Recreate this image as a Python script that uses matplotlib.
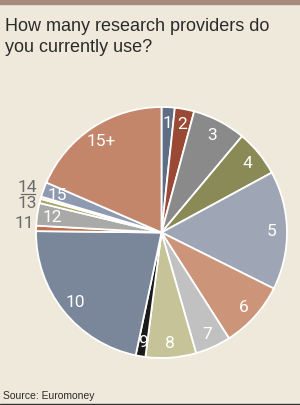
import matplotlib
matplotlib.use("Agg")
import matplotlib.pyplot as plt
from matplotlib.patches import Rectangle
from matplotlib.lines import Line2D

categories = ["1", "2", "3", "4", "5", "6", "7", "8", "9", "10", "11", "12", "13", "14", "15", "15+"]
values = [1.7, 2.5, 6.9, 6.0, 15.3, 8.6, 4.6, 6.5, 1.25, 21.9, 0.7, 2.9, 0.55, 0.3, 1.9, 18.5]
colors = ["#5f6d85", "#9a4a34", "#8a8a8a", "#8a8a56", "#9ea6b5", "#cc9579",
          "#c1c1c1", "#c5c397", "#1a1a1a", "#7a8699", "#c0704f", "#a9a9a7",
          "#a9a862", "#e6e2d6", "#8f99b0", "#c4866b"]
outside = ["11", "13", "14"]

W, H = 300, 406
bg = "#efe9dc"
fig = plt.figure(figsize=(W / 100, H / 100), dpi=100, facecolor=bg)

narrow = ["Roboto", "DejaVu Sans"]

cx, cy, r = 161.5, 233.5, 128
ax = fig.add_axes([(cx - r) / W, (H - cy - r) / H, 2 * r / W, 2 * r / H])
ax.set_facecolor(bg)
labels = ["" if c in outside else c for c in categories]
wedges, texts = ax.pie(values, labels=labels, colors=colors, startangle=90,
                       counterclock=False, labeldistance=0.88,
                       wedgeprops=dict(edgecolor="white", linewidth=1.3),
                       textprops=dict(color="white", fontsize=12.5, family=narrow,
                                      ha="center", va="center"))
for t in texts:
    t.set_ha("center")
    t.set_va("center")
ax.set_xlim(-1.02, 1.02)
ax.set_ylim(-1.02, 1.02)
ax.axis("off")

# outside labels for tiny slices
out_pos = {"11": (-1.09, 0.08), "13": (-1.066, 0.236), "14": (-1.066, 0.37)}
for c in outside:
    x, y = out_pos[c]
    ax.text(x, y, c, color="#6b6b6b", fontsize=12.5, family=narrow,
            ha="center", va="center", clip_on=False)
ax.add_line(Line2D([-1.12, -1.01], [0.303, 0.303], color="#6b6b6b", lw=0.9, clip_on=False))

# title and source
fig.text(5 / W, 1 - 31 / H, "How many research providers do", fontsize=13,
         family=["Liberation Sans", "DejaVu Sans"], color="#2b2b2b", va="baseline")
fig.text(5 / W, 1 - 51.5 / H, "you currently use?", fontsize=13,
         family=["Liberation Sans", "DejaVu Sans"], color="#2b2b2b", va="baseline")
fig.text(3 / W, 1 - 399 / H, "Source: Euromoney", fontsize=7.5,
         family=["Liberation Sans", "DejaVu Sans"], color="#2b2b2b", va="baseline")

# top bar and bottom rule
fig.patches.append(Rectangle((0, 1 - 5 / H), 1, 5 / H, transform=fig.transFigure,
                             color="#a68b7c", zorder=0))
fig.patches.append(Rectangle((0, 0), 1, 1.5 / H, transform=fig.transFigure,
                             color="#333333", zorder=0))

fig.savefig("out.png", dpi=100, facecolor=bg)
